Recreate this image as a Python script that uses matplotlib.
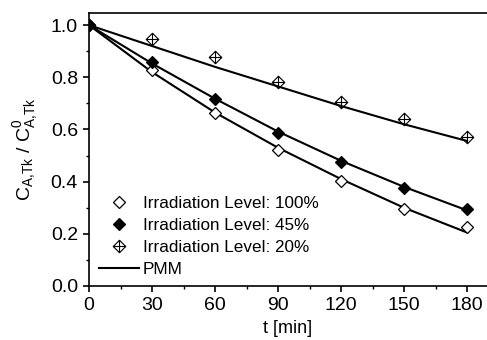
import numpy as np
import matplotlib.pyplot as plt
from matplotlib.path import Path

plt.rcParams['font.family'] = ['Liberation Sans', 'DejaVu Sans']
plt.rcParams['mathtext.fontset'] = 'custom'
plt.rcParams['mathtext.rm'] = 'Liberation Sans'
plt.rcParams['mathtext.it'] = 'Liberation Sans'

t = [0, 30, 60, 90, 120, 150, 180]
# measured concentrations
c_100 = [1.0, 0.828, 0.665, 0.521, 0.403, 0.295, 0.225]
c_45 = [1.0, 0.857, 0.715, 0.585, 0.476, 0.374, 0.295]
c_20 = [1.0, 0.946, 0.879, 0.783, 0.704, 0.642, 0.570]
# PMM model curves
pmm_100 = [1.0, 0.820, 0.665, 0.530, 0.410, 0.300, 0.205]
pmm_45 = [1.0, 0.853, 0.718, 0.592, 0.480, 0.380, 0.290]
pmm_20 = [1.0, 0.920, 0.840, 0.765, 0.690, 0.620, 0.556]

# diamond with a cross inside
crossed = Path(
    [(0, 1), (1, 0), (0, -1), (-1, 0), (0, 1), (0, 1), (0, -1), (-1, 0), (1, 0)],
    [Path.MOVETO, Path.LINETO, Path.LINETO, Path.LINETO, Path.CLOSEPOLY,
     Path.MOVETO, Path.LINETO, Path.MOVETO, Path.LINETO])

fig = plt.figure(figsize=(4.87, 3.40), dpi=100)
ax = fig.add_axes([89 / 487, 1 - 286 / 340, 1 - 89 / 487, (286 - 12.6) / 340])

ax.plot(t, c_100, ls='none', marker='D', ms=6.5, mfc='white', mec='black', mew=0.9,
        label='Irradiation Level: 100%', zorder=3)
ax.plot(t, c_45, ls='none', marker='D', ms=6.5, mfc='black', mec='black', mew=0.9,
        label='Irradiation Level: 45%', zorder=3)
ax.plot(t, c_20, ls='none', marker=crossed, ms=9, mfc='none', mec='black', mew=0.8,
        label='Irradiation Level: 20%', zorder=3)
ax.plot(t, pmm_100, color='black', lw=1.5, label='PMM')
ax.plot(t, pmm_45, color='black', lw=1.5)
ax.plot(t, pmm_20, color='black', lw=1.5)

ax.set_xlim(0, 189.5)
ax.set_ylim(0, 1.048)
ax.set_xticks([0, 30, 60, 90, 120, 150, 180])
ax.set_xticks([15, 45, 75, 105, 135, 165], minor=True)
ax.set_yticks([0.0, 0.2, 0.4, 0.6, 0.8, 1.0])
ax.set_yticks([0.1, 0.3, 0.5, 0.7, 0.9], minor=True)
ax.yaxis.set_major_formatter(plt.FormatStrFormatter('%.1f'))
ax.tick_params(which='major', direction='out', length=4, width=1.2, labelsize=14, pad=4)
ax.tick_params(which='minor', direction='out', length=2.5, width=1.0)
for s in ['left', 'bottom', 'top']:
    ax.spines[s].set_linewidth(1.2)
ax.spines['right'].set_visible(False)

ax.set_xlabel('t [min]', fontsize=13, labelpad=4)
ax.set_ylabel(r'$\mathregular{C_{A{,}Tk}\ /\ C^{0}_{A{,}Tk}}$', fontsize=14, labelpad=8)

ax.legend(loc='lower left', bbox_to_anchor=(0.0, -0.005), frameon=False, fontsize=12.3,
          handlelength=2.3, handletextpad=0.25, labelspacing=0.42, borderaxespad=0.2)

fig.savefig('out.png', dpi=100)
